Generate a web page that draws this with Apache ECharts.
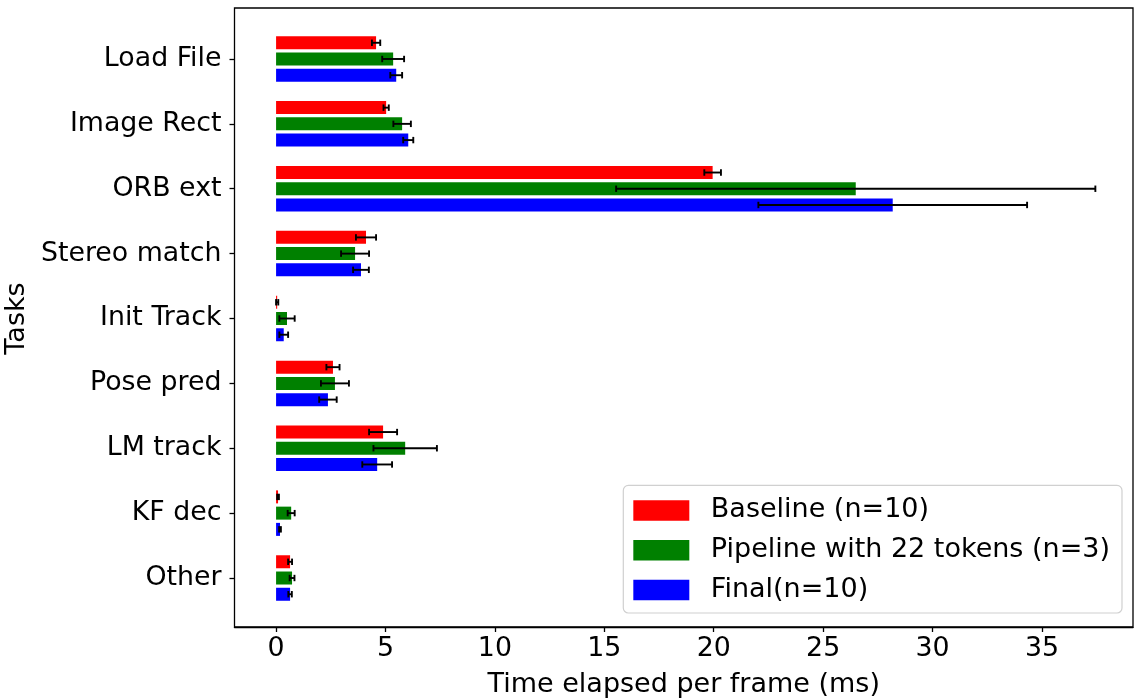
<!DOCTYPE html>
<html>
<head>
<meta charset="utf-8">
<script src="https://cdn.jsdelivr.net/npm/echarts@6/dist/echarts.min.js"></script>
<style>
html,body{margin:0;padding:0;background:#fff;}
#chart{width:1134px;height:698px;}
</style>
</head>
<body>
<div id="chart"></div>
<script>
const categories = ['Load File','Image Rect','ORB ext','Stereo match','Init Track','Pose pred','LM track','KF dec','Other'];
const xTicks = [0, 5, 10, 15, 20, 25, 30, 35];
const seriesNames = ['Baseline (n=10)', 'Pipeline with 22 tokens (n=3)', 'Final(n=10)'];
const baseline    = [4.57, 5.03, 19.95, 4.11, 0.05, 2.60, 4.89, 0.09, 0.64];
const baselineErr = [0.19, 0.12, 0.38, 0.46, 0.05, 0.30, 0.64, 0.04, 0.09];
const pipeline    = [5.35, 5.76, 26.49, 3.61, 0.50, 2.69, 5.90, 0.69, 0.73];
const pipelineErr = [0.50, 0.40, 10.95, 0.64, 0.35, 0.64, 1.45, 0.16, 0.11];
const finalV      = [5.49, 6.04, 28.18, 3.88, 0.35, 2.37, 4.62, 0.18, 0.64];
const finalErr    = [0.27, 0.23, 6.14, 0.36, 0.20, 0.40, 0.68, 0.04, 0.08];

const colors = ['#ff0000', '#008000', '#0000ff'];
const means = [baseline, pipeline, finalV];
const errs = [baselineErr, pipelineErr, finalErr];
const FONT = 'DejaVu Sans';
const TICK_FS = 26.8;
const LABEL_FS = 27;

const chart = echarts.init(document.getElementById('chart'), null, {renderer: 'canvas'});

function errSeries(k) {
  const data = means[k].map((v, i) => [i, v, errs[k][i]]);
  return {
    type: 'custom',
    xAxisIndex: 0, yAxisIndex: 0,
    z: 10,
    silent: true,
    encode: {x: 1, y: 0},
    data: data,
    renderItem: function (params, api) {
      const cat = api.value(0);
      const m = api.value(1);
      const e = api.value(2);
      const band = api.size([0, 1])[1];
      const off = (k - 1) * band * 0.25;
      const lo = api.coord([m - e, cat]);
      const hi = api.coord([m + e, cat]);
      const y = lo[1] + off;
      const cap = 3.2;
      const st = {stroke: '#000', lineWidth: 1.9};
      return {
        type: 'group',
        children: [
          {type: 'line', shape: {x1: lo[0], y1: y, x2: hi[0], y2: y}, style: st},
          {type: 'line', shape: {x1: lo[0], y1: y - cap, x2: lo[0], y2: y + cap}, style: st},
          {type: 'line', shape: {x1: hi[0], y1: y - cap, x2: hi[0], y2: y + cap}, style: st}
        ]
      };
    }
  };
}

const barSeries = seriesNames.map((name, k) => ({
  name: name,
  type: 'bar',
  xAxisIndex: 0, yAxisIndex: 0,
  data: means[k],
  barWidth: 13,
  barGap: '25%',
  itemStyle: {color: colors[k]},
  emphasis: {disabled: true}
}));

const option = {
  animation: false,
  backgroundColor: '#fff',
  textStyle: {fontFamily: FONT},
  grid: [
    {left: 234.5, right: 1, top: 26.55, bottom: 87.55, containLabel: false, outerBoundsMode: 'none'},
    {left: 234.5, right: 1, top: 8, bottom: 71, show: true, borderColor: '#000', borderWidth: 1.3, backgroundColor: 'transparent', z: 5, containLabel: false, outerBoundsMode: 'none'}
  ],
  xAxis: [
    {
      type: 'value', gridIndex: 0, min: -1.9, max: 39.16, offset: 16.55,
      name: 'Time elapsed per frame (ms)', nameLocation: 'middle', nameGap: 44,
      nameTextStyle: {fontSize: LABEL_FS, color: '#000', fontFamily: FONT},
      axisLine: {show: true, onZero: false, lineStyle: {color: '#000', width: 1.3}},
      axisTick: {show: true, length: 5, lineStyle: {color: '#000', width: 1.3}, customValues: xTicks},
      axisLabel: {fontSize: TICK_FS, color: '#000', margin: 9, fontFamily: FONT, customValues: xTicks},
      splitLine: {show: false}
    },
    {type: 'value', gridIndex: 1, min: 0, max: 1, show: false}
  ],
  yAxis: [
    {
      type: 'category', gridIndex: 0, data: categories, inverse: true,
      name: 'Tasks', nameLocation: 'middle', nameRotate: 90, nameGap: 193,
      nameTextStyle: {fontSize: LABEL_FS, color: '#000', fontFamily: FONT},
      axisLine: {show: false, onZero: false},
      axisTick: {show: true, alignWithLabel: true, length: 5, lineStyle: {color: '#000', width: 1.3}},
      axisLabel: {fontSize: TICK_FS, color: '#000', margin: 13, fontFamily: FONT, padding: [4, 0, 0, 0]},
      splitLine: {show: false}
    },
    {type: 'value', gridIndex: 1, min: 0, max: 1, show: false}
  ],
  legend: {
    orient: 'vertical',
    right: 12, bottom: 85,
    itemWidth: 56, itemHeight: 20.5, itemGap: 11.8,
    padding: [11, 12, 9, 10],
    borderColor: '#d0d0d0', borderWidth: 1.2, borderRadius: 5,
    backgroundColor: 'rgba(255,255,255,0.85)',
    icon: 'rect',
    textStyle: {fontSize: 27, color: '#000', fontFamily: FONT, lineHeight: 28, padding: [0, 0, 0, 16.5]},
    data: seriesNames,
    selectedMode: false
  },
  series: barSeries.concat([errSeries(0), errSeries(1), errSeries(2)])
};
chart.setOption(option);
</script>
</body>
</html>
